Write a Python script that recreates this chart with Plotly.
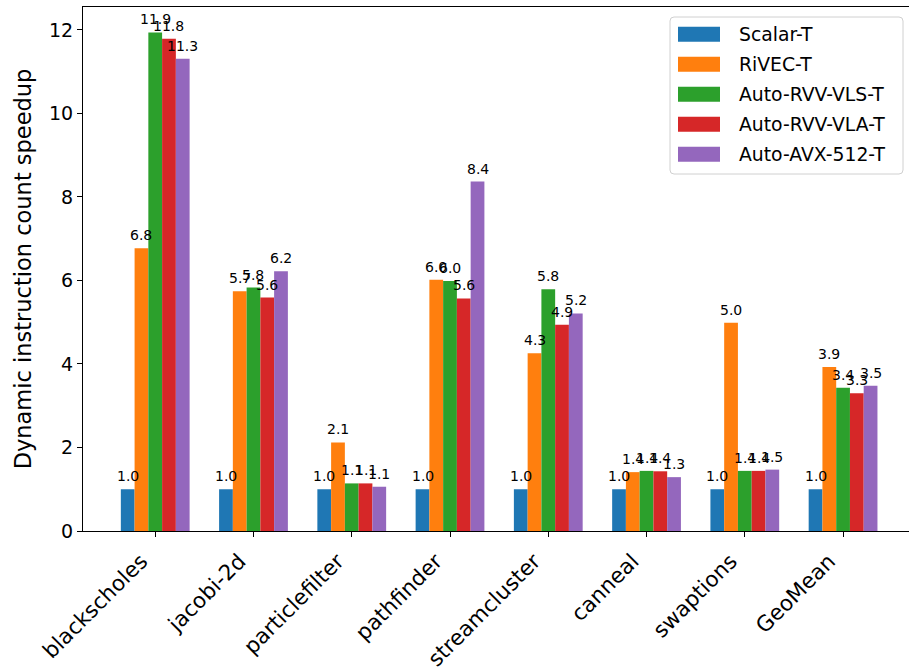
import plotly.graph_objects as go

# Benchmarks and per-configuration speedups (dynamic instruction count)
benchmarks = ["blackscholes", "jacobi-2d", "particlefilter", "pathfinder",
              "streamcluster", "canneal", "swaptions", "GeoMean"]

scalar_t = [1.0, 1.0, 1.0, 1.0, 1.0, 1.0, 1.0, 1.0]
rivec_t = [6.77, 5.74, 2.12, 6.02, 4.26, 1.41, 4.99, 3.93]
auto_rvv_vls_t = [11.94, 5.83, 1.14, 5.99, 5.79, 1.44, 1.44, 3.43]
auto_rvv_vla_t = [11.79, 5.59, 1.14, 5.57, 4.94, 1.43, 1.44, 3.30]
auto_avx512_t = [11.31, 6.22, 1.06, 8.37, 5.21, 1.29, 1.47, 3.48]

series_names = ["Scalar-T", "RiVEC-T", "Auto-RVV-VLS-T", "Auto-RVV-VLA-T", "Auto-AVX-512-T"]
series_values = [scalar_t, rivec_t, auto_rvv_vls_t, auto_rvv_vla_t, auto_avx512_t]
colors = ["#1f77b4", "#ff7f0e", "#2ca02c", "#d62728", "#9467bd"]

FONT = "DejaVu Sans"
W, H = 909, 671
ML, MR, MT, MB = 83, 0, 7, 140
PW, PH = W - ML - MR, H - MT - MB

BAR_W = 0.14            # width of one bar in category units
N = len(series_names)

fig = go.Figure()
for name, vals, col in zip(series_names, series_values, colors):
    fig.add_trace(go.Bar(
        name=name, x=benchmarks, y=vals,
        marker=dict(color=col, line=dict(width=0)),
        showlegend=False,
    ))

# value labels above each bar, drawn on top of all bars
annotations = []
for k, vals in enumerate(series_values):
    offset = (k - (N - 1) / 2) * BAR_W
    for i, v in enumerate(vals):
        annotations.append(dict(
            x=i + offset, y=v, xref="x", yref="y",
            text=f"{v:.1f}", showarrow=False,
            xanchor="center", yanchor="bottom", yshift=3,
            font=dict(family=FONT, size=14, color="black"),
        ))


def px_x(p):
    return (p - ML) / PW


def px_y(p):
    return (MT + PH - p) / PH


# legend box with rounded corners
shapes = []
bx0, bx1, by0, by1, r = 670, 903, 17, 174, 4
path = (f"M {px_x(bx0 + r)},{px_y(by0)} L {px_x(bx1 - r)},{px_y(by0)} "
        f"Q {px_x(bx1)},{px_y(by0)} {px_x(bx1)},{px_y(by0 + r)} "
        f"L {px_x(bx1)},{px_y(by1 - r)} Q {px_x(bx1)},{px_y(by1)} {px_x(bx1 - r)},{px_y(by1)} "
        f"L {px_x(bx0 + r)},{px_y(by1)} Q {px_x(bx0)},{px_y(by1)} {px_x(bx0)},{px_y(by1 - r)} "
        f"L {px_x(bx0)},{px_y(by0 + r)} Q {px_x(bx0)},{px_y(by0)} {px_x(bx0 + r)},{px_y(by0)} Z")
shapes.append(dict(type="path", xref="paper", yref="paper", path=path,
                   line=dict(color="#d0d0d0", width=1),
                   fillcolor="rgba(255,255,255,0.8)", layer="above"))
row0, row_step = 34.3, 30
for k, (name, col) in enumerate(zip(series_names, colors)):
    cy = row0 + k * row_step
    shapes.append(dict(type="rect", xref="paper", yref="paper",
                       x0=px_x(678), x1=px_x(720), y0=px_y(cy + 7.5), y1=px_y(cy - 7.5),
                       fillcolor=col, line=dict(width=0), layer="above"))
    annotations.append(dict(
        x=px_x(737), y=px_y(cy), xref="paper", yref="paper",
        text=name, showarrow=False, xanchor="left", yanchor="middle",
        font=dict(family=FONT, size=18.8, color="black"),
    ))

fig.update_layout(
    width=W, height=H,
    margin=dict(l=ML, r=MR, t=MT, b=MB, autoexpand=False),
    paper_bgcolor="white", plot_bgcolor="white",
    barmode="group", bargap=1 - N * BAR_W, bargroupgap=0,
    font=dict(family=FONT, size=19, color="black"),
    showlegend=False,
    annotations=annotations,
    shapes=shapes,
)

fig.update_xaxes(
    type="category", range=[-0.735, 7.671], automargin=False,
    showline=True, linecolor="black", linewidth=1.2, mirror=True,
    ticks="outside", ticklen=5, tickwidth=1.2, tickcolor="black",
    tickangle=-45, tickfont=dict(family=FONT, size=21.5, color="black"),
    ticklabelstandoff=3, ticklabelshift=-14,
    showgrid=False, zeroline=False,
)
fig.update_yaxes(
    range=[0, 12.55], tickvals=[0, 2, 4, 6, 8, 10, 12], automargin=False,
    showline=True, linecolor="black", linewidth=1.2,
    ticks="outside", ticklen=5, tickwidth=1.2, tickcolor="black",
    tickfont=dict(family=FONT, size=19, color="black"),
    showgrid=False, zeroline=False,
    title=dict(text="Dynamic instruction count speedup",
               font=dict(family=FONT, size=22.5, color="black"), standoff=11),
)

fig.write_html("out.html")
